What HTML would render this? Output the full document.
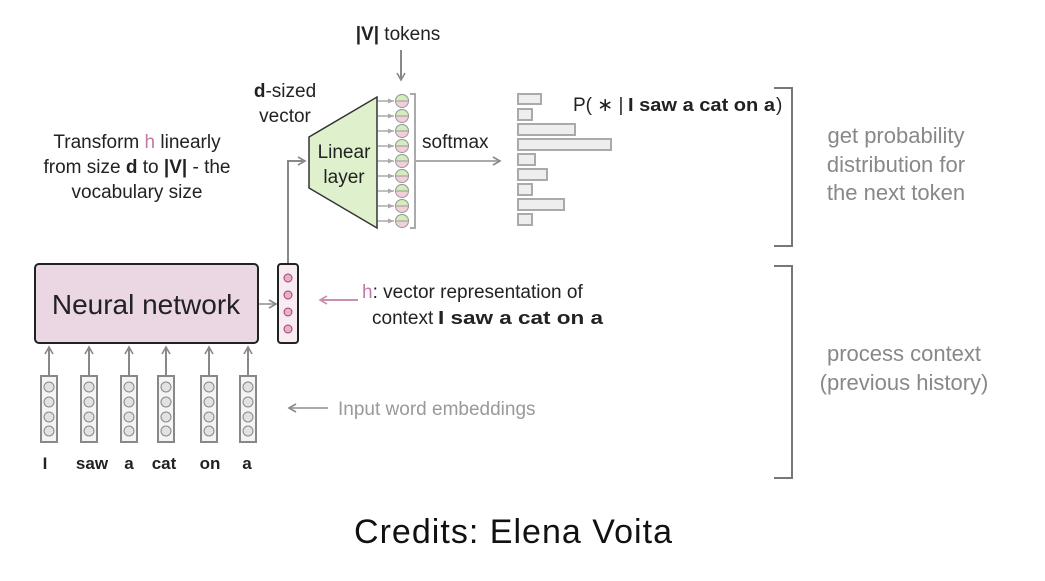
<!DOCTYPE html>
<html><head><meta charset="utf-8"><style>
html,body{margin:0;padding:0;background:#fff;}
svg{display:block;}
text{font-family:"Liberation Sans",sans-serif;}
</style></head><body>
<svg width="1045" height="581" viewBox="0 0 1045 581" xmlns="http://www.w3.org/2000/svg">
<defs>
<marker id="ag" markerWidth="10" markerHeight="10" refX="8" refY="5" orient="auto" markerUnits="userSpaceOnUse"><path d="M1,1 L8,5 L1,9" fill="none" stroke="#888" stroke-width="1.6"/></marker>
<marker id="as" markerWidth="8" markerHeight="8" refX="6" refY="4" orient="auto" markerUnits="userSpaceOnUse"><path d="M0,1.5 L6,4 L0,6.5 z" fill="#aaa"/></marker>
<marker id="ap" markerWidth="10" markerHeight="10" refX="8" refY="5" orient="auto" markerUnits="userSpaceOnUse"><path d="M1,1 L8,5 L1,9" fill="none" stroke="#c98fb3" stroke-width="1.6"/></marker>
</defs>

<text x="398" y="40" font-size="19" text-anchor="middle" fill="#222"><tspan font-weight="bold">|V|</tspan> tokens</text>
<line x1="401" y1="50" x2="401" y2="80" stroke="#888" stroke-width="2" marker-end="url(#ag)"/>

<text x="285" y="97" font-size="19" text-anchor="middle" fill="#222"><tspan font-weight="bold">d</tspan>-sized</text>
<text x="285" y="122" font-size="19" text-anchor="middle" fill="#222">vector</text>

<text x="137" y="148" font-size="19" text-anchor="middle" fill="#222">Transform <tspan fill="#c07aa8">h</tspan> linearly</text>
<text x="137" y="173" font-size="19" text-anchor="middle" fill="#222">from size <tspan font-weight="bold">d</tspan> to <tspan font-weight="bold">|V|</tspan> - the</text>
<text x="137" y="198" font-size="19" text-anchor="middle" fill="#222">vocabulary size</text>

<polygon points="309,137 377,97 377,228 309,188" fill="#dff0cd" stroke="#333" stroke-width="1.5"/>
<text x="344" y="158" font-size="19" text-anchor="middle" fill="#222">Linear</text>
<text x="344" y="183" font-size="19" text-anchor="middle" fill="#222">layer</text>

<g stroke="#aaa" stroke-width="1.5">
<line x1="378" y1="101" x2="394" y2="101" marker-end="url(#as)"/>
<line x1="378" y1="116" x2="394" y2="116" marker-end="url(#as)"/>
<line x1="378" y1="131" x2="394" y2="131" marker-end="url(#as)"/>
<line x1="378" y1="146" x2="394" y2="146" marker-end="url(#as)"/>
<line x1="378" y1="161" x2="394" y2="161" marker-end="url(#as)"/>
<line x1="378" y1="176" x2="394" y2="176" marker-end="url(#as)"/>
<line x1="378" y1="191" x2="394" y2="191" marker-end="url(#as)"/>
<line x1="378" y1="206" x2="394" y2="206" marker-end="url(#as)"/>
<line x1="378" y1="221" x2="394" y2="221" marker-end="url(#as)"/>
</g>
<g stroke="#999" stroke-width="1">
<circle cx="402" cy="101" r="6.5" fill="#f3cfd9"/><path d="M395.5,101 A6.5,6.5 0 0 1 408.5,101 Z" fill="#d4edbd"/>
<circle cx="402" cy="116" r="6.5" fill="#f3cfd9"/><path d="M395.5,116 A6.5,6.5 0 0 1 408.5,116 Z" fill="#d4edbd"/>
<circle cx="402" cy="131" r="6.5" fill="#f3cfd9"/><path d="M395.5,131 A6.5,6.5 0 0 1 408.5,131 Z" fill="#d4edbd"/>
<circle cx="402" cy="146" r="6.5" fill="#f3cfd9"/><path d="M395.5,146 A6.5,6.5 0 0 1 408.5,146 Z" fill="#d4edbd"/>
<circle cx="402" cy="161" r="6.5" fill="#f3cfd9"/><path d="M395.5,161 A6.5,6.5 0 0 1 408.5,161 Z" fill="#d4edbd"/>
<circle cx="402" cy="176" r="6.5" fill="#f3cfd9"/><path d="M395.5,176 A6.5,6.5 0 0 1 408.5,176 Z" fill="#d4edbd"/>
<circle cx="402" cy="191" r="6.5" fill="#f3cfd9"/><path d="M395.5,191 A6.5,6.5 0 0 1 408.5,191 Z" fill="#d4edbd"/>
<circle cx="402" cy="206" r="6.5" fill="#f3cfd9"/><path d="M395.5,206 A6.5,6.5 0 0 1 408.5,206 Z" fill="#d4edbd"/>
<circle cx="402" cy="221" r="6.5" fill="#f3cfd9"/><path d="M395.5,221 A6.5,6.5 0 0 1 408.5,221 Z" fill="#d4edbd"/>
</g>
<path d="M410,94 H415 V228 H410" fill="none" stroke="#aaa" stroke-width="2"/>
<line x1="415" y1="161" x2="500" y2="161" stroke="#aaa" stroke-width="2" marker-end="url(#ag)"/>
<text x="422" y="148" font-size="19" fill="#222">softmax</text>

<g fill="#eee" stroke="#aaa" stroke-width="2">
<rect x="518" y="94" width="23" height="10"/>
<rect x="518" y="109" width="14" height="11"/>
<rect x="518" y="124" width="57" height="11"/>
<rect x="518" y="139" width="93" height="11"/>
<rect x="518" y="154" width="17" height="11"/>
<rect x="518" y="169" width="29" height="11"/>
<rect x="518" y="184" width="14" height="11"/>
<rect x="518" y="199" width="46" height="11"/>
<rect x="518" y="214" width="14" height="11"/>
</g>
<text x="573" y="111" font-size="19" fill="#222">P( ∗ |</text>
<text x="628" y="111" font-size="18" font-weight="bold" fill="#222" textLength="147" lengthAdjust="spacingAndGlyphs">I saw a cat on a</text>
<text x="776" y="111" font-size="19" fill="#222">)</text>

<path d="M774,88 H792 V246 H774" fill="none" stroke="#777" stroke-width="2"/>
<path d="M774,266 H792 V478 H774" fill="none" stroke="#777" stroke-width="2"/>
<g font-size="22" fill="#888" text-anchor="middle">
<text x="896" y="143">get probability</text>
<text x="896" y="172">distribution for</text>
<text x="896" y="200">the next token</text>
<text x="904" y="361">process context</text>
<text x="904" y="390">(previous history)</text>
</g>

<rect x="35" y="264" width="223" height="79" rx="4" fill="#ead7e3" stroke="#222" stroke-width="2"/>
<text x="146" y="314" font-size="28" text-anchor="middle" fill="#222">Neural network</text>
<line x1="259" y1="304" x2="276" y2="304" stroke="#aaa" stroke-width="2" marker-end="url(#ag)"/>
<rect x="278" y="264" width="20" height="79" rx="3" fill="#f7ecf1" stroke="#222" stroke-width="2"/>
<g fill="#e8b0c8" stroke="#a04070" stroke-width="1">
<circle cx="288" cy="278" r="4"/><circle cx="288" cy="295" r="4"/><circle cx="288" cy="312" r="4"/><circle cx="288" cy="329" r="4"/>
</g>
<path d="M288,263 V161 H305" fill="none" stroke="#888" stroke-width="2" marker-end="url(#ag)"/>

<line x1="358" y1="300" x2="320" y2="300" stroke="#c98fb3" stroke-width="2" marker-end="url(#ap)"/>
<text x="362" y="298" font-size="19" fill="#222"><tspan fill="#c07aa8">h</tspan>: vector representation of</text>
<text x="372" y="324" font-size="19" fill="#222">context</text>
<text x="438" y="324" font-size="18" font-weight="bold" fill="#222" textLength="165" lengthAdjust="spacingAndGlyphs">I saw a cat on a</text>

<line x1="328" y1="408" x2="289" y2="408" stroke="#aaa" stroke-width="2" marker-end="url(#ag)"/>
<text x="338" y="415" font-size="19" fill="#999">Input word embeddings</text>

<g stroke="#888" stroke-width="2">
<line x1="49" y1="375" x2="49" y2="347" marker-end="url(#ag)"/>
<line x1="89" y1="375" x2="89" y2="347" marker-end="url(#ag)"/>
<line x1="129" y1="375" x2="129" y2="347" marker-end="url(#ag)"/>
<line x1="166" y1="375" x2="166" y2="347" marker-end="url(#ag)"/>
<line x1="209" y1="375" x2="209" y2="347" marker-end="url(#ag)"/>
<line x1="248" y1="375" x2="248" y2="347" marker-end="url(#ag)"/>
</g>
<g fill="#f4f4f4" stroke="#888" stroke-width="2">
<rect x="41" y="376" width="16" height="66"/>
<rect x="81" y="376" width="16" height="66"/>
<rect x="121" y="376" width="16" height="66"/>
<rect x="158" y="376" width="16" height="66"/>
<rect x="201" y="376" width="16" height="66"/>
<rect x="240" y="376" width="16" height="66"/>
</g>
<g fill="#e2e2e2" stroke="#888" stroke-width="1">
<circle cx="49" cy="387" r="5"/><circle cx="49" cy="402" r="5"/><circle cx="49" cy="417" r="5"/><circle cx="49" cy="431" r="5"/>
<circle cx="89" cy="387" r="5"/><circle cx="89" cy="402" r="5"/><circle cx="89" cy="417" r="5"/><circle cx="89" cy="431" r="5"/>
<circle cx="129" cy="387" r="5"/><circle cx="129" cy="402" r="5"/><circle cx="129" cy="417" r="5"/><circle cx="129" cy="431" r="5"/>
<circle cx="166" cy="387" r="5"/><circle cx="166" cy="402" r="5"/><circle cx="166" cy="417" r="5"/><circle cx="166" cy="431" r="5"/>
<circle cx="209" cy="387" r="5"/><circle cx="209" cy="402" r="5"/><circle cx="209" cy="417" r="5"/><circle cx="209" cy="431" r="5"/>
<circle cx="248" cy="387" r="5"/><circle cx="248" cy="402" r="5"/><circle cx="248" cy="417" r="5"/><circle cx="248" cy="431" r="5"/>
</g>
<g font-size="17" font-weight="bold" fill="#222" text-anchor="middle">
<text x="45" y="469">I</text>
<text x="92" y="469">saw</text>
<text x="129" y="469">a</text>
<text x="164" y="469">cat</text>
<text x="210" y="469">on</text>
<text x="247" y="469">a</text>
</g>

<text x="513" y="543" font-size="34" text-anchor="middle" fill="#111" textLength="318" lengthAdjust="spacing">Credits:  Elena Voita</text>
</svg>
</body></html>
